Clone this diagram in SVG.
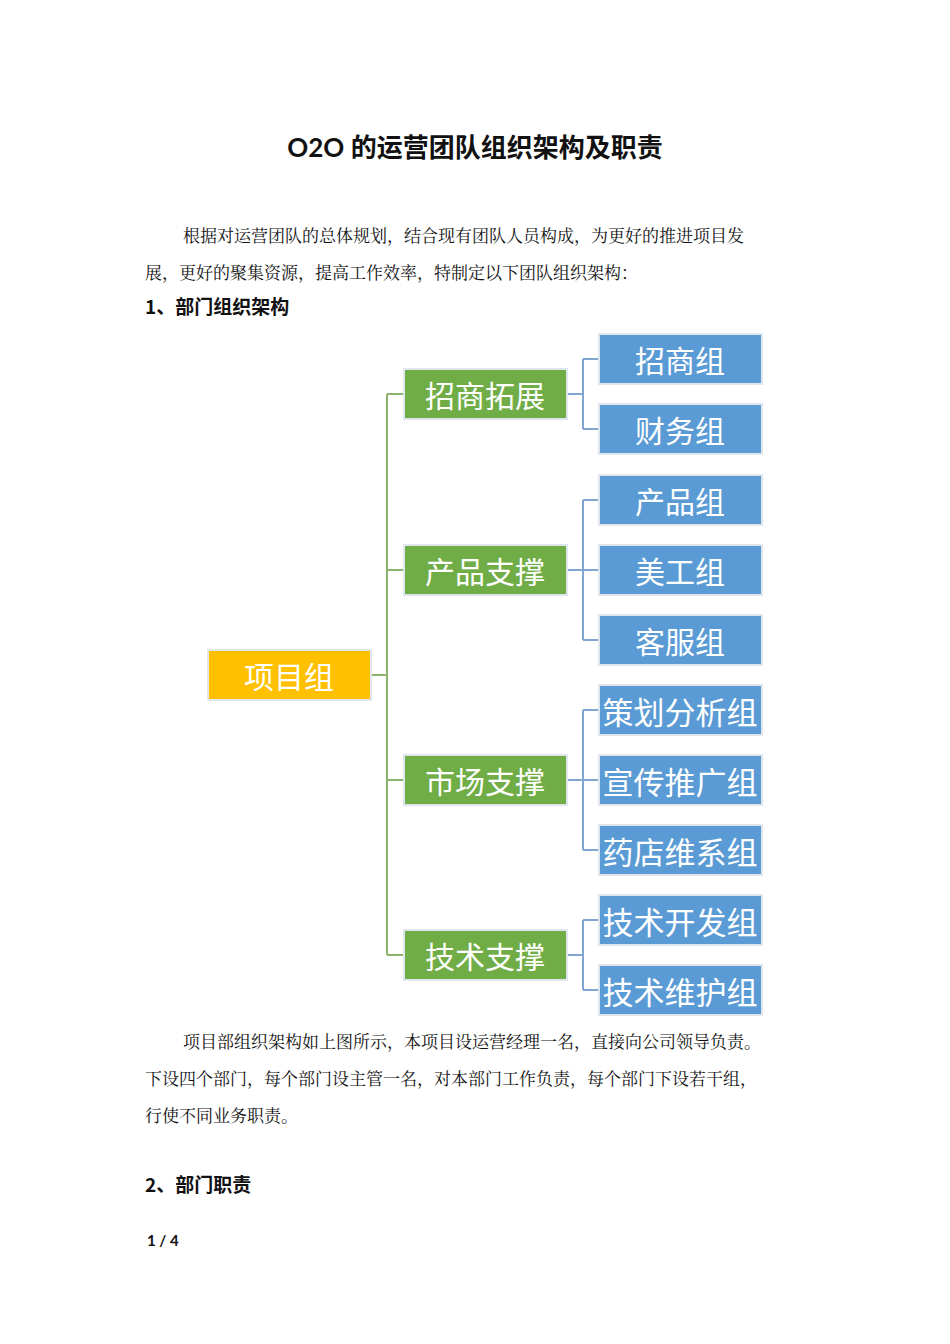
<svg xmlns="http://www.w3.org/2000/svg" width="950" height="1344" viewBox="0 0 950 1344">
<style>
.bx{stroke:#dfe6ee;stroke-width:2}
.r{fill:#FFC000}.g{fill:#70AD47}.b{fill:#5B9BD5}
.t{font-family:"Noto Sans CJK SC","Noto Sans",sans-serif;fill:#fff;text-anchor:middle;dominant-baseline:central;font-size:30px}
.tl{font-size:31px}
.body{font-family:"Noto Serif CJK SC","Noto Sans CJK SC",serif;font-size:17px;fill:#111}
.h{font-family:"Noto Sans CJK SC",sans-serif;font-weight:bold;font-size:19px;fill:#111}
.cg{fill:none;stroke:#8CB36C;stroke-width:2}
.cb{fill:none;stroke:#7FA5D0;stroke-width:2}
</style>
<rect width="950" height="1344" fill="#fff"/>
<text x="475" y="157" text-anchor="middle" font-family="Lato,'Noto Sans CJK SC',sans-serif" font-weight="bold" font-size="26" fill="#111">O2O 的运营团队组织架构及职责</text>
<text class="body" x="183" y="242">根据对运营团队的总体规划，结合现有团队人员构成，为更好的推进项目发</text>
<text class="body" x="145" y="279">展，更好的聚集资源，提高工作效率，特制定以下团队组织架构：</text>
<text class="h" x="145" y="314">1、部门组织架构</text>
<g id="connectors">
<path class="cg" d="M371 675H387M387 394V955M387 394H404M387 570H404M387 780H404M387 955H404"/>
<path class="cb" d="M567 394H583M583 359V429M583 359H599M583 429H599"/>
<path class="cb" d="M567 570H583M583 500V640M583 500H599M583 570H599M583 640H599"/>
<path class="cb" d="M567 780H583M583 710V850M583 710H599M583 780H599M583 850H599"/>
<path class="cb" d="M567 955H583M583 920V990M583 920H599M583 990H599"/>
</g>
<g id="n0"><rect class="bx r" x="208" y="650" width="163" height="50"/><text class="t" x="289" y="675">项目组</text></g>
<g id="n1"><rect class="bx g" x="404" y="369" width="163" height="50"/><text class="t" x="485" y="394">招商拓展</text></g>
<g id="n2"><rect class="bx g" x="404" y="545" width="163" height="50"/><text class="t" x="485" y="570">产品支撑</text></g>
<g id="n3"><rect class="bx g" x="404" y="755" width="163" height="50"/><text class="t" x="485" y="780">市场支撑</text></g>
<g id="n4"><rect class="bx g" x="404" y="930" width="163" height="50"/><text class="t" x="485" y="955">技术支撑</text></g>
<g id="b1"><rect class="bx b" x="599" y="334" width="163" height="50"/><text class="t" x="680" y="359">招商组</text></g>
<g id="b2"><rect class="bx b" x="599" y="404" width="163" height="50"/><text class="t" x="680" y="429">财务组</text></g>
<g id="b3"><rect class="bx b" x="599" y="475" width="163" height="50"/><text class="t" x="680" y="500">产品组</text></g>
<g id="b4"><rect class="bx b" x="599" y="545" width="163" height="50"/><text class="t" x="680" y="570">美工组</text></g>
<g id="b5"><rect class="bx b" x="599" y="615" width="163" height="50"/><text class="t" x="680" y="640">客服组</text></g>
<g id="b6"><rect class="bx b" x="599" y="685" width="163" height="50"/><text class="t tl" x="680" y="710">策划分析组</text></g>
<g id="b7"><rect class="bx b" x="599" y="755" width="163" height="50"/><text class="t tl" x="680" y="780">宣传推广组</text></g>
<g id="b8"><rect class="bx b" x="599" y="825" width="163" height="50"/><text class="t tl" x="680" y="850">药店维系组</text></g>
<g id="b9"><rect class="bx b" x="599" y="895" width="163" height="50"/><text class="t tl" x="680" y="920">技术开发组</text></g>
<g id="b10"><rect class="bx b" x="599" y="965" width="163" height="50"/><text class="t tl" x="680" y="990">技术维护组</text></g>
<text class="body" x="183" y="1048">项目部组织架构如上图所示，本项目设运营经理一名，直接向公司领导负责。</text>
<text class="body" x="145" y="1085">下设四个部门，每个部门设主管一名，对本部门工作负责，每个部门下设若干组，</text>
<text class="body" x="145" y="1122">行使不同业务职责。</text>
<text class="h" x="145" y="1192">2、部门职责</text>
<text x="147" y="1246" font-family="Lato,sans-serif" font-weight="bold" font-size="15" fill="#111">1 / 4</text>
</svg>
